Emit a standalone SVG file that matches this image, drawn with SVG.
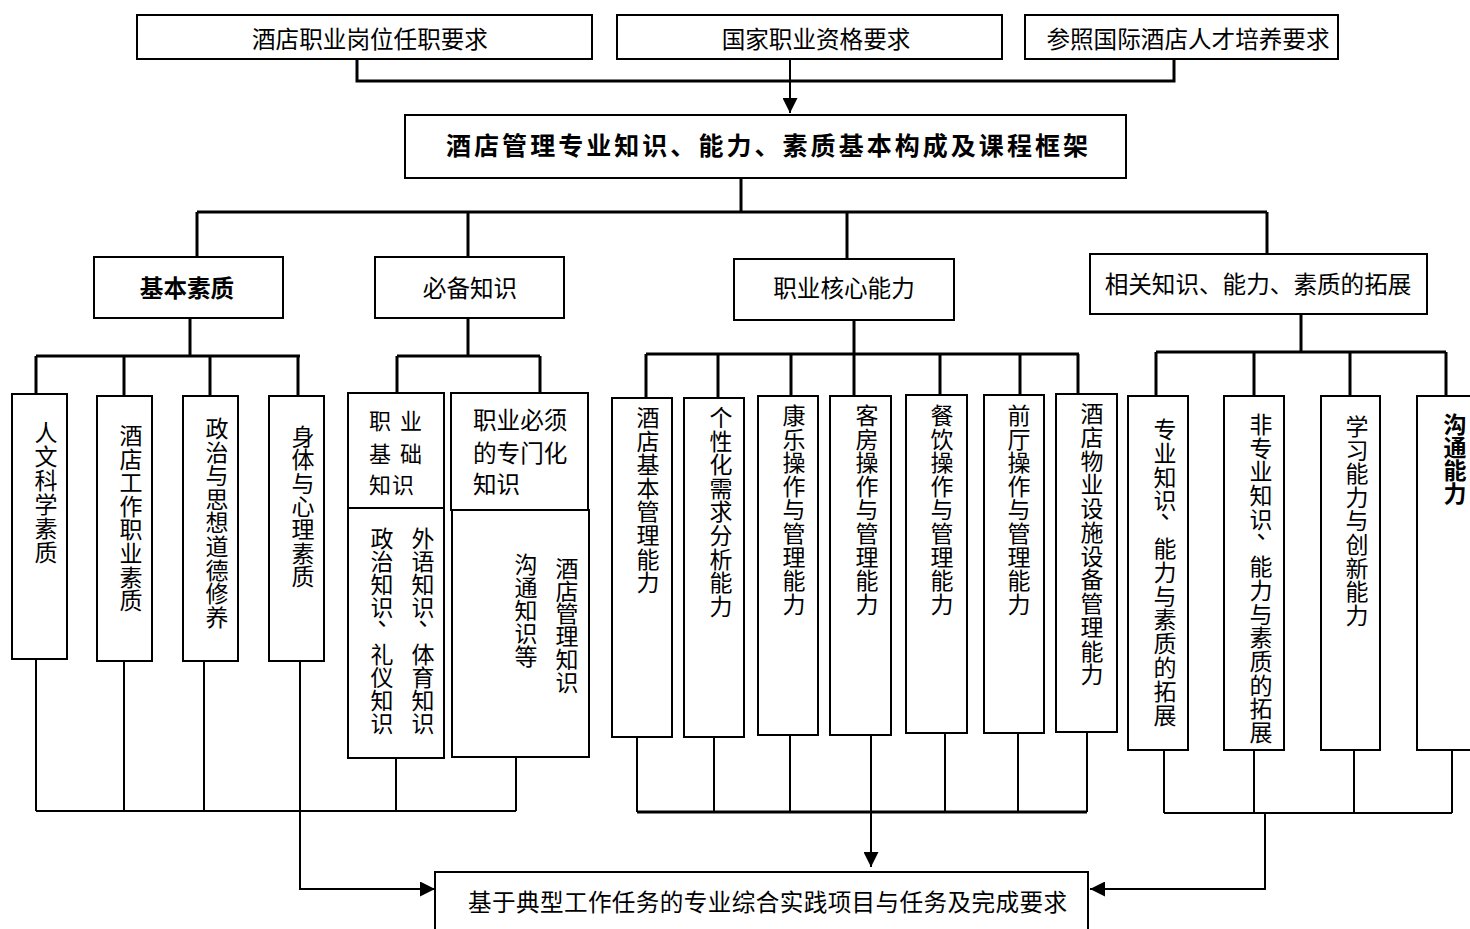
<svg xmlns="http://www.w3.org/2000/svg" width="1470" height="929" viewBox="0 0 1470 929">
<style>
.box{fill:#fff;stroke:#000;stroke-width:2}
.t{font-family:"Noto Sans CJK SC","Noto Sans CJK JP",sans-serif;font-size:23.6px;fill:#000}
.v{font-family:"Noto Sans CJK SC","Noto Sans CJK JP",sans-serif;font-size:23px;fill:#000;text-anchor:middle}
.b{font-weight:700}
.c{text-anchor:middle}
.thick{fill:none;stroke:#000;stroke-width:3}
.thin{fill:none;stroke:#000;stroke-width:2}
</style>
<defs>
<marker id="arr" viewBox="0 0 10 10" refX="10" refY="5" markerWidth="15" markerHeight="15" markerUnits="userSpaceOnUse" orient="auto">
<path d="M0,0 L10,5 L0,10 z" fill="#000"/>
</marker>
</defs>

<g id="connectors">
<path class="thick" d="M357,59 V81 H1174 V59"/>
<path class="thin" d="M790,59 V113" marker-end="url(#arr)"/>
<path class="thick" d="M741,178 V212"/>
<path class="thick" d="M197,212 H1267 M197,212 V257 M468,212 V257 M847,212 V259 M1267,212 V254"/>
<path class="thick" d="M190,318 V356 M36,356 H300 M36,356 V394 M124,356 V396 M210,356 V396 M298,356 V396"/>
<path class="thick" d="M468,318 V356 M397,356 H540 M397,356 V393 M540,356 V393"/>
<path class="thick" d="M854,320 V396 M646,354 H1079 M646,354 V398 M718,354 V398 M791,354 V396 M940,354 V395 M1020,354 V395 M1078,354 V394"/>
<path class="thick" d="M1301,314 V352 M1156,352 H1446 M1156,352 V396 M1254,352 V396 M1350,352 V396 M1446,352 V396"/>
<path class="thin" d="M36,659 V811 M124,661 V811 M204,661 V811 M396,758 V811 M516,757 V811 M36,811 H516"/>
<path class="thin" d="M300,661 V889 H435" marker-end="url(#arr)"/>
<path class="thin" d="M637,737 V812 M714,737 V812 M790,735 V812 M945,733 V812 M1018,733 V812 M1087,732 V812"/>
<path class="thick" d="M637,812 H1087"/>
<path class="thin" d="M871,735 V867" marker-end="url(#arr)"/>
<path class="thin" d="M1164,750 V813 M1254,750 V813 M1354,750 V813 M1452,750 V813 M1164,813 H1452"/>
<path class="thin" d="M1265,813 V889 H1090" marker-end="url(#arr)"/>
</g>

<g id="top1"><rect class="box" x="137" y="15" width="455" height="44"/><text class="t c" x="370" y="48">酒店职业岗位任职要求</text></g>
<g id="top2"><rect class="box" x="617" y="15" width="385" height="44"/><text class="t c" x="816" y="48">国家职业资格要求</text></g>
<g id="top3"><rect class="box" x="1025" y="15" width="313" height="44"/><text class="t c" x="1188" y="48">参照国际酒店人才培养要求</text></g>

<g id="main"><rect class="box" x="405" y="115" width="721" height="63"/><text class="t b" x="446" y="155" textLength="642" lengthAdjust="spacing" style="font-size:25px">酒店管理专业知识、能力、素质基本构成及课程框架</text></g>

<g id="jbsz"><rect class="box" x="94" y="257" width="189" height="61"/><text class="t b c" x="187" y="297">基本素质</text></g>
<g id="bbzs"><rect class="box" x="375" y="257" width="189" height="61"/><text class="t c" x="470" y="297">必备知识</text></g>
<g id="zyhxnl"><rect class="box" x="734" y="259" width="220" height="61"/><text class="t c" x="844" y="297">职业核心能力</text></g>
<g id="xgtz"><rect class="box" x="1090" y="254" width="337" height="60"/><text class="t c" x="1258" y="293">相关知识、能力、素质的拓展</text></g>

<g id="b1"><rect class="box" x="12" y="394" width="55" height="265"/><text class="v" x="46 46 46 46 46 46" y="441 465 489 513 537 561">人文科学素质</text></g>
<g id="b2"><rect class="box" x="97" y="396" width="55" height="265"/><text class="v" x="131 131 131 131 131 131 131 131" y="444 467.6 491.2 514.8 538.4 562 585.6 609.2">酒店工作职业素质</text></g>
<g id="b3"><rect class="box" x="183" y="396" width="55" height="265"/><text class="v" x="217 217 217 217 217 217 217 217 217" y="437 460.6 484.2 507.8 531.4 555 578.6 602.2 625.8">政治与思想道德修养</text></g>
<g id="b4"><rect class="box" x="269" y="396" width="55" height="265"/><text class="v" x="303 303 303 303 303 303 303" y="445 468.3 491.6 514.9 538.2 561.5 584.8">身体与心理素质</text></g>

<g id="k1"><rect class="box" x="348" y="393" width="96" height="115"/>
<text class="t" style="font-size:22px" x="369 400" y="429">职业</text>
<text class="t" style="font-size:22px" x="369 400" y="462">基础</text>
<text class="t" style="font-size:22px" x="369 392" y="493">知识</text></g>
<g id="k2"><rect class="box" x="348" y="508" width="96" height="250"/>
<text class="v" x="423 423 423 423 430 423 423 423 423" y="547 570.1 593.2 616.3 625 662.5 685.6 708.7 731.8">外语知识、体育知识</text>
<text class="v" x="382 382 382 382 389 382 382 382 382" y="547 570.1 593.2 616.3 625 662.5 685.6 708.7 731.8">政治知识、礼仪知识</text></g>
<g id="k3"><rect class="box" x="451" y="393" width="137" height="117"/>
<text class="t" x="473" y="429">职业必须</text>
<text class="t" x="473" y="462">的专门化</text>
<text class="t" x="473" y="493">知识</text></g>
<g id="k4"><rect class="box" x="452" y="510" width="137" height="247"/>
<text class="v" x="567 567 567 567 567 567" y="577 599.7 622.4 645.1 667.8 690.5">酒店管理知识</text>
<text class="v" x="526 526 526 526 526" y="573 596 619 642 665">沟通知识等</text></g>

<g id="c1"><rect class="box" x="612" y="398" width="60" height="339"/><text class="v" x="648 648 648 648 648 648 648 648" y="426 449.6 473.2 496.8 520.4 544 567.6 591.2">酒店基本管理能力</text></g>
<g id="c2"><rect class="box" x="684" y="398" width="60" height="339"/><text class="v" x="721 721 721 721 721 721 721 721 721" y="426 449.6 473.2 496.8 520.4 544 567.6 591.2 614.8">个性化需求分析能力</text></g>
<g id="c3"><rect class="box" x="758" y="396" width="60" height="339"/><text class="v" x="794 794 794 794 794 794 794 794 794" y="424 447.6 471.2 494.8 518.4 542 565.6 589.2 612.8">康乐操作与管理能力</text></g>
<g id="c4"><rect class="box" x="830" y="396" width="61" height="339"/><text class="v" x="867 867 867 867 867 867 867 867 867" y="424 447.6 471.2 494.8 518.4 542 565.6 589.2 612.8">客房操作与管理能力</text></g>
<g id="c5"><rect class="box" x="906" y="395" width="61" height="338"/><text class="v" x="942 942 942 942 942 942 942 942 942" y="424 447.6 471.2 494.8 518.4 542 565.6 589.2 612.8">餐饮操作与管理能力</text></g>
<g id="c6"><rect class="box" x="984" y="395" width="60" height="338"/><text class="v" x="1019 1019 1019 1019 1019 1019 1019 1019 1019" y="424 447.6 471.2 494.8 518.4 542 565.6 589.2 612.8">前厅操作与管理能力</text></g>
<g id="c7"><rect class="box" x="1056" y="394" width="61" height="338"/><text class="v" x="1092 1092 1092 1092 1092 1092 1092 1092 1092 1092 1092 1092" y="422 445.75 469.5 493.25 517 540.75 564.5 588.25 612 635.75 659.5 683.25">酒店物业设施设备管理能力</text></g>

<g id="r1"><rect class="box" x="1128" y="396" width="60" height="354"/><text class="v" x="1165 1165 1165 1165 1172 1165 1165 1165 1165 1165 1165 1165 1165" y="438 461.8 485.6 509.4 518 557 580.8 604.6 628.4 652.2 676 699.8 723.6">专业知识、能力与素质的拓展</text></g>
<g id="r2"><rect class="box" x="1224" y="396" width="60" height="354"/><text class="v" x="1261 1261 1261 1261 1261 1268 1261 1261 1261 1261 1261 1261 1261 1261" y="433 456.7 480.4 504.1 527.8 538 575.2 598.9 622.6 646.3 670 693.7 717.4 741.1">非专业知识、能力与素质的拓展</text></g>
<g id="r3"><rect class="box" x="1321" y="396" width="59" height="354"/><text class="v" x="1357 1357 1357 1357 1357 1357 1357 1357 1357" y="435 458.6 482.2 505.8 529.4 553 576.6 600.2 623.8">学习能力与创新能力</text></g>
<g id="r4"><rect class="box" x="1417" y="396" width="70" height="354"/><text class="v b" x="1455 1455 1455 1455" y="433 456 479 502">沟通能力</text></g>

<g id="bottom"><rect class="box" x="435" y="872" width="653" height="70"/><text class="t" x="468" y="911" textLength="599" lengthAdjust="spacing">基于典型工作任务的专业综合实践项目与任务及完成要求</text></g>
</svg>
